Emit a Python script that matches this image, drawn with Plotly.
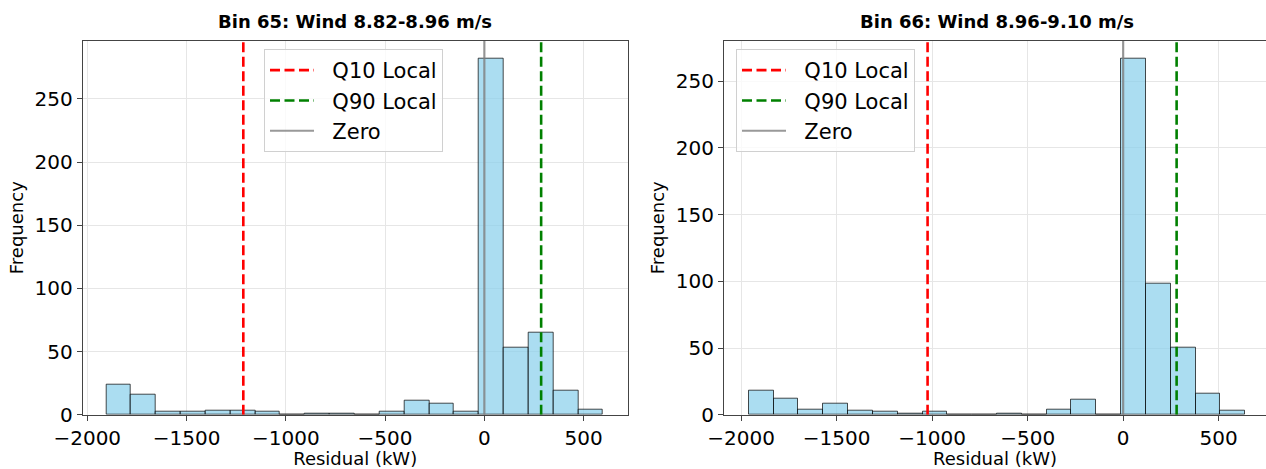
import numpy as np
import plotly.graph_objects as go

# ---------------- data ----------------
titles = ["<b>Bin 65: Wind 8.82-8.96 m/s</b>", "<b>Bin 66: Wind 8.96-9.10 m/s</b>"]

# histogram (20 equal bins between the min and max residual)
bin65_lo, bin65_hi = -1904, 598
counts65 = [24, 16, 2, 2, 3, 3, 2, 0, 1, 1, 0, 2, 11, 9, 2, 282, 53, 65, 19, 4]
q10_65, q90_65 = -1214, 286

bin66_lo, bin66_hi = -1960, 639
counts66 = [18, 12, 4, 8, 3, 2, 1, 2, 0, 0, 1, 0, 4, 11, 0, 267, 98, 50, 16, 3]
q10_66, q90_66 = -1024, 280

x_tick_vals = [-2000, -1500, -1000, -500, 0, 500]
x_tick_text = ["\u22122000", "\u22121500", "\u22121000", "\u2212500", "0", "500"]
y_tick_vals = [0, 50, 100, 150, 200, 250]
legend_names = ["Q10 Local", "Q90 Local", "Zero"]

FONT = "DejaVu Sans"
BAR_FILL = "rgba(135,206,235,0.7)"
BAR_EDGE = "rgba(0,0,0,0.7)"
PAD = "\u00a0\u00a0"

fig = go.Figure()

panels = [
    dict(lo=bin65_lo, hi=bin65_hi, counts=counts65, q10=q10_65, q90=q90_65,
         xa="x", ya="y", legend="legend"),
    dict(lo=bin66_lo, hi=bin66_hi, counts=counts66, q10=q10_66, q90=q90_66,
         xa="x2", ya="y2", legend="legend2"),
]

for p in panels:
    n = len(p["counts"])
    edges = np.linspace(p["lo"], p["hi"], n + 1)
    centers = (edges[:-1] + edges[1:]) / 2
    bw = edges[1] - edges[0]
    ymax = max(p["counts"]) * 1.05
    fig.add_trace(go.Bar(
        x=centers, y=p["counts"], width=bw,
        marker=dict(color=BAR_FILL, line=dict(color=BAR_EDGE, width=1)),
        showlegend=False, xaxis=p["xa"], yaxis=p["ya"], hoverinfo="skip"))
    fig.add_trace(go.Scatter(
        x=[p["q10"], p["q10"]], y=[0, ymax], mode="lines", name=PAD + legend_names[0],
        line=dict(color="red", width=2.6, dash="10px,4.5px"),
        xaxis=p["xa"], yaxis=p["ya"], legend=p["legend"]))
    fig.add_trace(go.Scatter(
        x=[p["q90"], p["q90"]], y=[0, ymax], mode="lines", name=PAD + legend_names[1],
        line=dict(color="green", width=2.6, dash="10px,4.5px"),
        xaxis=p["xa"], yaxis=p["ya"], legend=p["legend"]))
    fig.add_trace(go.Scatter(
        x=[0, 0], y=[0, ymax], mode="lines", name=PAD + legend_names[2],
        line=dict(color="rgba(128,128,128,0.8)", width=2.2),
        xaxis=p["xa"], yaxis=p["ya"], legend=p["legend"]))

W, H = 1266, 469
ydom = [1 - 414.7 / H, 1 - 40.7 / H]

axis_common = dict(
    showgrid=True, gridcolor="#e6e6e6", gridwidth=1,
    showline=True, linecolor="#444444", linewidth=1,
    ticks="outside", ticklen=5, tickcolor="#444444", tickwidth=1,
    zeroline=False, automargin=False,
    tickfont=dict(family=FONT, size=20, color="#000000"),
)

legend_common = dict(
    xanchor="left", yanchor="top",
    bgcolor="rgba(255,255,255,0.8)", bordercolor="#d0d0d0", borderwidth=1,
    font=dict(family=FONT, size=21, color="#000000"),
    itemwidth=44,
)

fig.update_layout(
    width=W, height=H,
    margin=dict(l=0, r=0, t=0, b=0),
    paper_bgcolor="white", plot_bgcolor="white",
    barmode="overlay", bargap=0,
    font=dict(family=FONT, color="#000000"),
    xaxis=dict(domain=[82.7 / W, 627.7 / W], range=[-2023, 722],
               tickvals=x_tick_vals, ticktext=x_tick_text, mirror=True,
               title=dict(text="Residual (kW)", font=dict(family=FONT, size=18), standoff=4),
               anchor="y", **axis_common),
    yaxis=dict(domain=ydom, range=[0, max(counts65) * 1.05],
               tickvals=y_tick_vals, mirror=True,
               title=dict(text="Frequency", font=dict(family=FONT, size=18), standoff=6),
               anchor="x", **axis_common),
    xaxis2=dict(domain=[724 / W, 1.0], range=[-2090, 748],
                tickvals=x_tick_vals, ticktext=x_tick_text, mirror=True,
                title=dict(text="Residual (kW)", font=dict(family=FONT, size=18), standoff=4),
                anchor="y2", **axis_common),
    yaxis2=dict(domain=ydom, range=[0, max(counts66) * 1.05],
                tickvals=y_tick_vals, mirror=False,
                title=dict(text="Frequency", font=dict(family=FONT, size=18), standoff=6),
                anchor="x2", **axis_common),
    legend=dict(x=264 / W, y=1 - 49 / H, **legend_common),
    legend2=dict(x=736 / W, y=1 - 49 / H, **legend_common),
    annotations=[
        dict(text=titles[0], x=355.2 / W, y=1 - 22 / H, xref="paper", yref="paper",
             xanchor="center", yanchor="middle", showarrow=False,
             font=dict(family=FONT, size=18, color="#000000")),
        dict(text=titles[1], x=997.5 / W, y=1 - 22 / H, xref="paper", yref="paper",
             xanchor="center", yanchor="middle", showarrow=False,
             font=dict(family=FONT, size=18, color="#000000")),
    ],
)

fig.write_html("out.html")
